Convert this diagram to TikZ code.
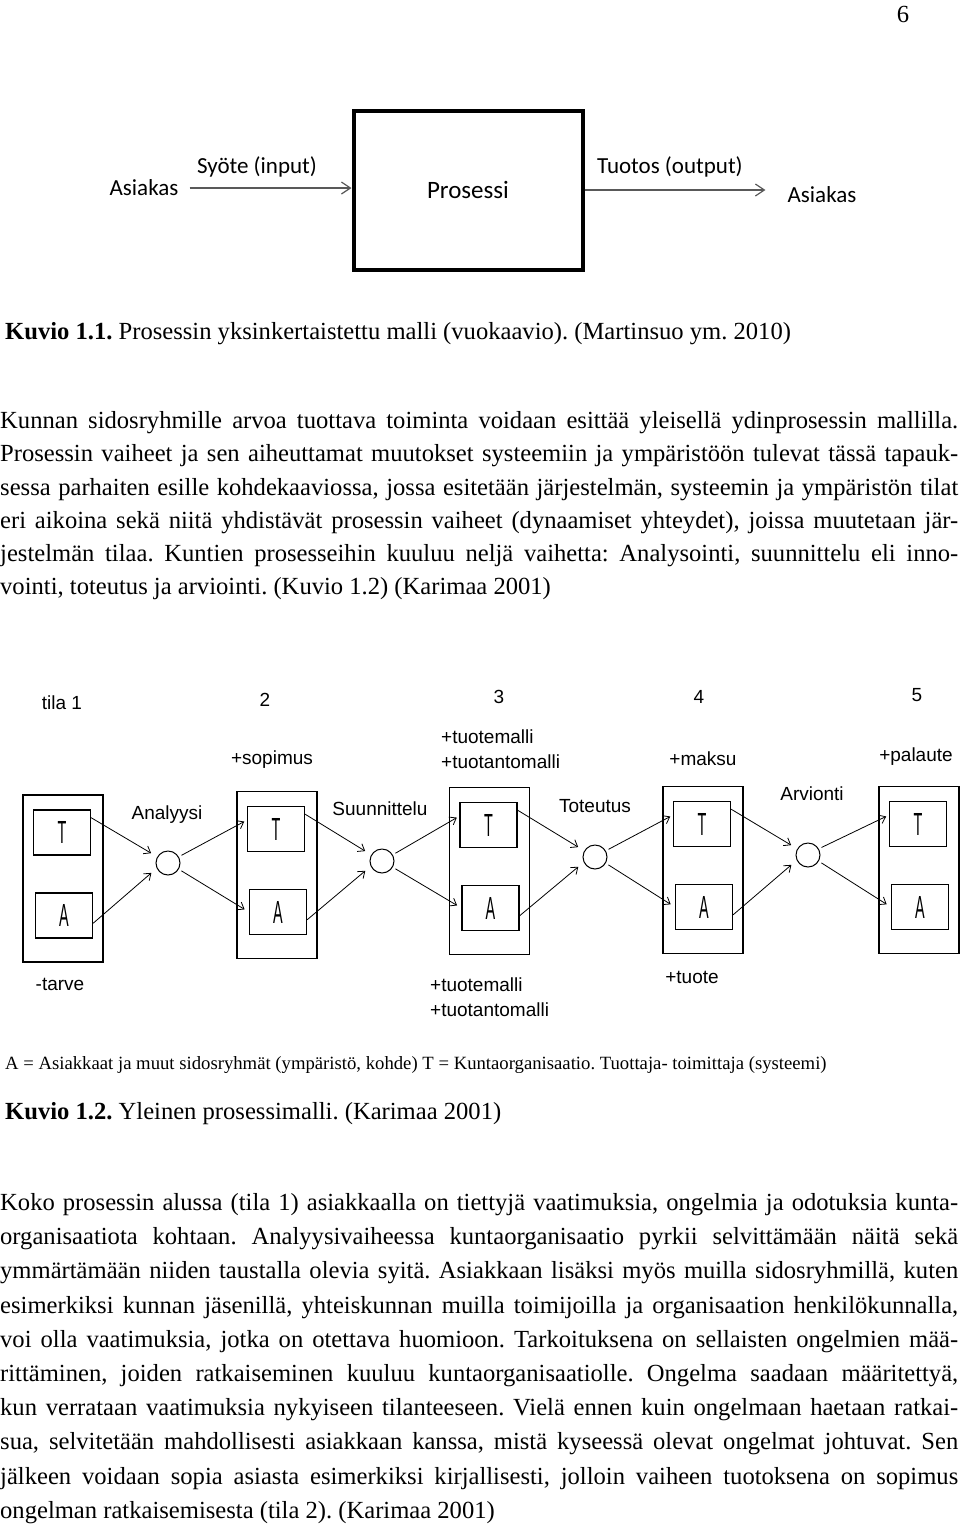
\documentclass[tikz,border=0pt]{standalone}
\usepackage{fontspec}
\setmainfont{Liberation Serif}
\newfontfamily\calfont{Carlito}
\newfontfamily\diafont{Liberation Sans}
\usepackage{tikz}
\usetikzlibrary{arrows.meta}
\frenchspacing

\newcommand{\jrow}[1]{\makebox[958pt][s]{#1}}
\newcommand{\slim}[1]{\scalebox{0.45}[1]{#1}}

\tikzset{
  body/.style={anchor=base west, inner sep=0pt, font=\fontsize{24.6}{30}\selectfont},
  small/.style={anchor=base west, inner sep=0pt, font=\fontsize{18.7}{22}\selectfont},
  cal/.style={inner sep=0pt, font=\calfont\fontsize{23}{27}\selectfont},
  lab/.style={inner sep=0pt, font=\diafont\fontsize{19}{24.5}\selectfont},
  stage/.style={draw, line width=1.2pt, minimum width=80pt, minimum height=167pt, inner sep=0pt},
  inbox/.style={draw, line width=1.2pt, minimum width=57pt, minimum height=45pt, inner sep=0pt,
    font=\diafont\fontsize{32}{32}\selectfont},
  knot/.style={draw, circle, line width=1pt, minimum size=24pt, inner sep=0pt},
  flow/.style={-{Straight Barb[length=6pt,width=9pt]}, line width=0.8pt},
  feed/.style={-{Straight Barb[length=9pt,width=12pt]}, line width=1.2pt, draw=black!65},
}

\begin{document}
\begin{tikzpicture}[x=1pt, y=-1pt]

\useasboundingbox (0,0) rectangle (960,1526);
\fill[white] (0,0) rectangle (960,1526);

\node[body, anchor=base] (pno) at (903,22) {6};

% Kuvio 1.1
\node[draw, line width=4pt, minimum width=229pt, minimum height=159pt, inner sep=0pt,
  font=\calfont\fontsize{25}{27}\selectfont] (proc) at (468,190) {Prosessi};
\node[cal] (cin) at (144,188) {Asiakas};
\node[cal] (cout) at (822,195) {Asiakas};
\node[cal] (syote) at (257,167) {Syöte (input)};
\node[cal] (tuotos) at (670,167) {Tuotos (output)};
\draw[feed, shorten <=11pt] (cin.east) -- (cin.east -| proc.west);
\draw[feed, shorten >=22pt] (proc.east) -- (proc.east -| cout.west);

\node[body] (cap1) at (5,339) {\textbf{Kuvio 1.1.} Prosessin yksinkertaistettu malli (vuokaavio). (Martinsuo ym. 2010)};

\node[body] (l1) at (0,428) {\jrow{Kunnan sidosryhmille arvoa tuottava toiminta voidaan esittää yleisellä ydinprosessin mallilla.}};
\node[body] (l2) at (0,461) {\jrow{Prosessin vaiheet ja sen aiheuttamat muutokset systeemiin ja ympäristöön tulevat tässä tapauk-}};
\node[body] (l3) at (0,495) {\jrow{sessa parhaiten esille kohdekaaviossa, jossa esitetään järjestelmän, systeemin ja ympäristön tilat}};
\node[body] (l4) at (0,528) {\jrow{eri aikoina sekä niitä yhdistävät prosessin vaiheet (dynaamiset yhteydet), joissa muutetaan jär-}};
\node[body] (l5) at (0,561) {\jrow{jestelmän tilaa. Kuntien prosesseihin kuuluu neljä vaihetta: Analysointi, suunnittelu eli inno-}};
\node[body] (l6) at (0,594) {vointi, toteutus ja arviointi. (Kuvio 1.2) (Karimaa 2001)};

% Kuvio 1.2
\foreach \n/\xo/\yo in {1/63/878.5, 2/277/875, 3/489.5/871, 4/703/870, 5/919/870}
{
  \node[stage] (s\n) at (\xo,\yo) {};
  \node[inbox] (t\n) at (\xo-1,\yo-46) {\slim{T}};
  \node[inbox] (a\n) at (\xo+1,\yo+37) {\slim{A}};
}

\foreach \n/\x/\y in {1/168/863, 2/382/861, 3/595/857, 4/808/855}
  \node[knot] (c\n) at (\x,\y) {};

\foreach [evaluate=\n as \m using {int(\n+1)}] \n in {1,...,4}
{
  \draw[flow, shorten >=7pt] (t\n.27) -- (c\n.150);
  \draw[flow, shorten >=7pt] (a\n.-15) -- (c\n.205);
  \draw[flow, shorten <=3pt, shorten >=3pt] (c\n.30) -- (t\m.163);
  \draw[flow, shorten <=3pt, shorten >=5pt] (c\n.-30) -- (a\m.west);
}

\node[lab] (n1) at (62,703) {tila 1};
\node[lab] (n2) at (265,700) {2};
\node[lab] (n3) at (499,697) {3};
\node[lab] (n4) at (699,697) {4};
\node[lab] (n5) at (917,695) {5};

\node[lab] (sop) at (272,760) {+sopimus};
\node[lab, anchor=west, align=left] (malli) at (441,749) {+tuotemalli\\+tuotantomalli};
\node[lab] (maksu) at (703,759) {+maksu};
\node[lab] (pal) at (916,757) {+palaute};

\node[lab] (tarve) at (60,984) {-tarve};
\node[lab, anchor=west, align=left] (malli2) at (430,997) {+tuotemalli\\+tuotantomalli};
\node[lab] (tuote) at (692,977) {+tuote};

\node[lab] (an) at (167,815) {Analyysi};
\node[lab] (su) at (380,809) {Suunnittelu};
\node[lab] (to) at (595,806) {Toteutus};
\node[lab] (ar) at (812,794) {Arvionti};

\node[small] (leg) at (5,1069) {A = Asiakkaat ja muut sidosryhmät (ympäristö, kohde) T = Kuntaorganisaatio. Tuottaja- toimittaja (systeemi)};
\node[body] (cap2) at (5,1119) {\textbf{Kuvio 1.2.} Yleinen prosessimalli. (Karimaa 2001)};

\node[body] (m1) at (0,1210) {\jrow{Koko prosessin alussa (tila 1) asiakkaalla on tiettyjä vaatimuksia, ongelmia ja odotuksia kunta-}};
\node[body] (m2) at (0,1244) {\jrow{organisaatiota kohtaan. Analyysivaiheessa kuntaorganisaatio pyrkii selvittämään näitä sekä}};
\node[body] (m3) at (0,1278) {\jrow{ymmärtämään niiden taustalla olevia syitä. Asiakkaan lisäksi myös muilla sidosryhmillä, kuten}};
\node[body] (m4) at (0,1313) {\jrow{esimerkiksi kunnan jäsenillä, yhteiskunnan muilla toimijoilla ja organisaation henkilökunnalla,}};
\node[body] (m5) at (0,1347) {\jrow{voi olla vaatimuksia, jotka on otettava huomioon. Tarkoituksena on sellaisten ongelmien mää-}};
\node[body] (m6) at (0,1381) {\jrow{rittäminen, joiden ratkaiseminen kuuluu kuntaorganisaatiolle. Ongelma saadaan määritettyä,}};
\node[body] (m7) at (0,1415) {\jrow{kun verrataan vaatimuksia nykyiseen tilanteeseen. Vielä ennen kuin ongelmaan haetaan ratkai-}};
\node[body] (m8) at (0,1449) {\jrow{sua, selvitetään mahdollisesti asiakkaan kanssa, mistä kyseessä olevat ongelmat johtuvat. Sen}};
\node[body] (m9) at (0,1484) {\jrow{jälkeen voidaan sopia asiasta esimerkiksi kirjallisesti, jolloin vaiheen tuotoksena on sopimus}};
\node[body] (m10) at (0,1518) {ongelman ratkaisemisesta (tila 2). (Karimaa 2001)};

\end{tikzpicture}
\end{document}
